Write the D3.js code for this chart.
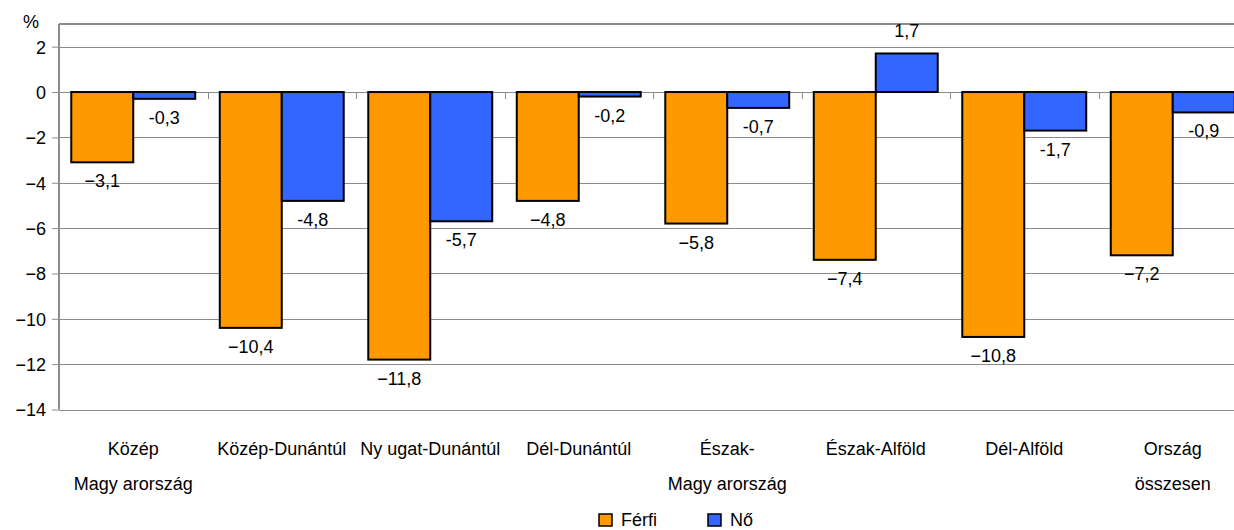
<!DOCTYPE html>
<html>
<head>
<meta charset="utf-8">
<script src="https://cdn.jsdelivr.net/npm/d3@7"></script>
<style>
  body { margin: 0; background: #fff; }
  text { font-family: "Liberation Sans", Arial, sans-serif; fill: #000; }
</style>
</head>
<body>
<svg id="chart" width="1234" height="530"></svg>
<script>
// regions (x labels split in two lines, the way the picture shows them)
var regions = ["Közép Magyarország", "Közép-Dunántúl", "Nyugat-Dunántúl", "Dél-Dunántúl",
	"Észak-Magyarország", "Észak-Alföld", "Dél-Alföld", "Ország összesen"]
var regionLines = [["Közép", "Magy arország"], ["Közép-Dunántúl"], ["Ny ugat-Dunántúl"], ["Dél-Dunántúl"],
	["Észak-", "Magy arország"], ["Észak-Alföld"], ["Dél-Alföld"], ["Ország", "összesen"]]
var ferfi = [-3.1, -10.4, -11.8, -4.8, -5.8, -7.4, -10.8, -7.2]
var no = [-0.3, -4.8, -5.7, -0.2, -0.7, 1.7, -1.7, -0.9]
var yTicks = [2, 0, -2, -4, -6, -8, -10, -12, -14]
var seriesNames = ["Férfi", "Nő"]
var colors = ["#ff9900", "#3366ff"]

var svg = d3.select("#chart")
// plot area box (window.top is taken, so the names are spelled out)
var plotLeft = 59, plotRight = 1247, plotTop = 24, plotBottom = 409.5

var x0 = d3.scaleBand().domain(regions).range([plotLeft, plotRight]).padding(0)
var x1 = d3.scaleBand().domain(seriesNames).range([0, x0.bandwidth()]).paddingOuter(0.198).paddingInner(0)
var y = d3.scaleLinear().domain([-14, 3]).range([plotBottom, plotTop])

// gridlines
svg.append("g")
	.selectAll("line")
	.data(yTicks)
	.enter()
	.append("line")
	.attr("x1", plotLeft).attr("x2", plotRight)
	.attr("y1", d => Math.round(y(d)) + 0.5).attr("y2", d => Math.round(y(d)) + 0.5)
	.style("stroke", "#8c8c8c").style("stroke-width", "1px")

// plot area top border
svg.append("line")
	.attr("x1", plotLeft).attr("x2", plotRight)
	.attr("y1", plotTop).attr("y2", plotTop)
	.style("stroke", "#8c8c8c").style("stroke-width", "2px")

// y axis
var fmtTick = d => d < 0 ? "\u2212" + Math.abs(d) : String(d)
var yAxis = svg.append("g")
	.attr("transform", "translate(" + plotLeft + ",0)")
	.call(d3.axisLeft(y).tickValues(yTicks).tickSize(7).tickPadding(6).tickFormat(fmtTick))
yAxis.select(".domain").attr("d", "M0," + plotTop + "V" + plotBottom).style("stroke", "#8c8c8c").style("stroke-width", "2px")
yAxis.selectAll(".tick line").style("stroke", "#8c8c8c")
yAxis.selectAll(".tick text").style("font-size", "18px").attr("dy", "0.36em")

svg.append("text")
	.attr("x", 31).attr("y", 28)
	.style("text-anchor", "middle").style("font-size", "18px")
	.text("%")

// x ticks on the zero line
svg.append("g")
	.selectAll("line")
	.data(regions.slice(1))
	.enter()
	.append("line")
	.attr("x1", d => Math.round(x0(d)) + 0.5).attr("x2", d => Math.round(x0(d)) + 0.5)
	.attr("y1", y(0)).attr("y2", y(0) + 7)
	.style("stroke", "#8c8c8c").style("stroke-width", "1px")

// bars
var rows = regions.map((r, i) => ({region: r, values: [ferfi[i], no[i]]}))
var groups = svg.append("g")
	.selectAll("g")
	.data(rows)
	.enter()
	.append("g")
	.attr("transform", d => "translate(" + x0(d.region) + ",0)")

groups.selectAll("rect")
	.data(d => d.values.map((v, k) => ({series: seriesNames[k], k: k, v: v})))
	.enter()
	.append("rect")
	.attr("x", d => x1(d.series))
	.attr("width", x1.bandwidth())
	.attr("y", d => y(Math.max(0, d.v)))
	.attr("height", d => Math.abs(y(d.v) - y(0)))
	.style("fill", d => colors[d.k])
	.style("stroke", "#000")
	.style("stroke-width", "2px")

// value labels: orange ones use a true minus, blue ones a hyphen
var fmtVal = (v, k) => {
	var s = d3.format(".1f")(Math.abs(v)).replace(".", ",")
	if (v < 0) s = (k === 0 ? "\u2212" : "-") + s
	return s
}
groups.selectAll("text.val")
	.data(d => d.values.map((v, k) => ({series: seriesNames[k], k: k, v: v})))
	.enter()
	.append("text")
	.attr("class", "val")
	.attr("x", d => x1(d.series) + x1.bandwidth() / 2)
	.attr("y", d => d.v < 0 ? y(d.v) + 25 : y(d.v) - 16)
	.style("text-anchor", "middle").style("font-size", "18px")
	.text(d => fmtVal(d.v, d.k))

// x labels
var xl = svg.append("g")
	.selectAll("text")
	.data(regions)
	.enter()
	.append("text")
	.attr("x", d => x0(d) + x0.bandwidth() / 2)
	.attr("y", 455)
	.style("text-anchor", "middle").style("font-size", "18px")
xl.selectAll("tspan")
	.data((d, i) => regionLines[i])
	.enter()
	.append("tspan")
	.attr("x", function(){ return d3.select(this.parentNode).attr("x") })
	.attr("dy", (d, j) => j === 0 ? 0 : 35)
	.text(d => d)

// legend
var legendX = [599, 708]
var lg = svg.append("g")
	.selectAll("g")
	.data(seriesNames)
	.enter()
	.append("g")
	.attr("transform", (d, i) => "translate(" + legendX[i] + ",514)")
lg.append("rect")
	.attr("width", 13).attr("height", 12)
	.style("fill", (d, i) => colors[i])
	.style("stroke", "#000").style("stroke-width", "1.5px")
lg.append("text")
	.attr("x", 22).attr("y", 12)
	.style("font-size", "18px")
	.text(d => d)
</script>
</body>
</html>
